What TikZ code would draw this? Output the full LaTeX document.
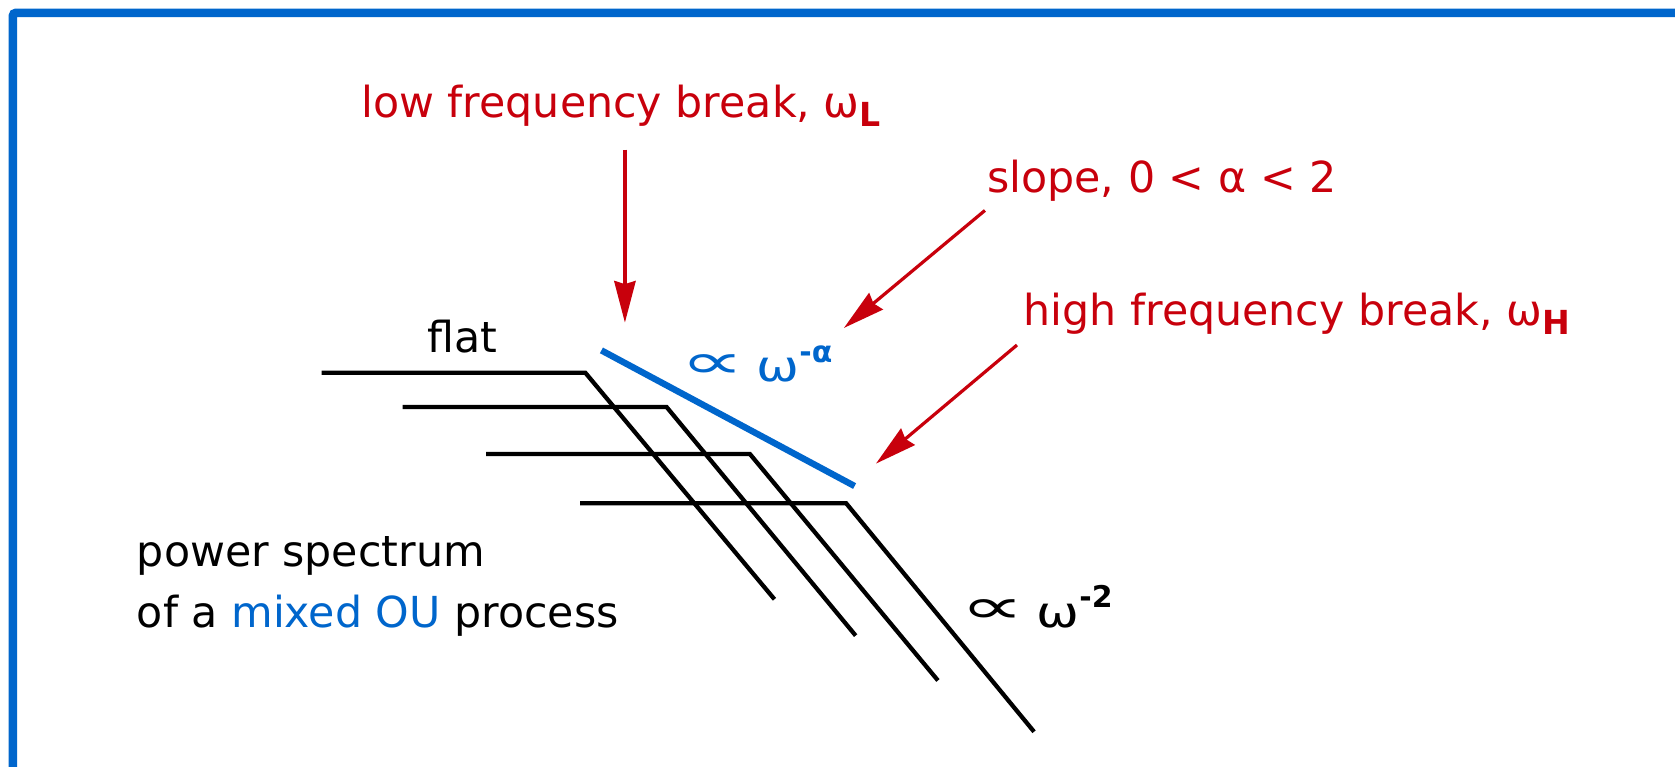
\documentclass[tikz,border=0pt]{standalone}
\usepackage{fontspec}
\setmainfont{DejaVu Sans}
\usetikzlibrary{arrows.meta}
\definecolor{fblue}{RGB}{0,102,204}
\definecolor{fred}{RGB}{200,0,12}
\newcommand{\bigtxt}{\fontsize{40}{48}\selectfont}
\newcommand{\supx}[1]{\raisebox{18pt}{\fontsize{28}{30}\selectfont\bfseries #1}}
\newcommand{\subx}[1]{\raisebox{-0.2em}{\fontsize{31}{34}\selectfont\bfseries #1}}
\newcommand{\propx}{\raisebox{3pt}{\scalebox{2.1}[1.15]{∝}}}
\newcommand{\omx}{\scalebox{1.2}[1]{ω}}
\tikzset{
  lbl/.style={inner sep=0pt, anchor=base west, font=\bigtxt},
  spec/.style={line width=4pt, black},
  redarrow/.style={fred, line width=3pt, -{Stealth[length=39pt, width=20pt, inset=3pt]}},
}
\begin{document}
\begin{tikzpicture}[x=1pt,y=-1pt]
\useasboundingbox (0,0) rectangle (1568,718);
\clip (0,0) rectangle (1568,718);
\fill[white] (0,0) rectangle (1568,718);
% frame
\draw[fblue, line width=8pt, rounded corners=3pt] (12,740) -- (12,12) -- (1590,12);

% spectra
\coordinate (a1) at (301,349); \coordinate (b1) at (548,349); \coordinate (c1) at (725,561);
\coordinate (a2) at (377,381); \coordinate (b2) at (624,381); \coordinate (c2) at (801,595);
\coordinate (a3) at (455,425); \coordinate (b3) at (702,425); \coordinate (c3) at (878,637);
\coordinate (a4) at (543,471); \coordinate (b4) at (792,471); \coordinate (c4) at (968,685);
\draw[spec] (a1) -- (b1) -- (c1);
\draw[spec] (a2) -- (b2) -- (c2);
\draw[spec] (a3) -- (b3) -- (c3);
\draw[spec] (a4) -- (b4) -- (c4);

% blue slope
\coordinate (s1) at (563,328); \coordinate (s2) at (800,455);
\draw[fblue, line width=6pt] (s1) -- (s2);

% labels
\node[lbl] (flat) at (400,330) {flat};
\node[lbl, fblue] (propa) at (637,357) {\propx\hspace{11pt}\omx\supx{-α}};
\node[lbl] (prop2) at (899,587) {\propx\hspace{11pt}\omx\supx{-2}};
\node[lbl] (ps1) at (128,530) {power spectrum};
\node[lbl] (ps2) at (128,587) {of a \textcolor{fblue}{mixed OU} process};

\node[lbl, fred] (low) at (338,110) {low frequency break, ω\subx{L}};
\node[lbl, fred] (slope) at (924,180) {slope, 0 < α < 2};
\node[lbl, fred] (high) at (958,305) {high frequency break, ω\subx{H}};

% arrows
\coordinate (l0) at (585,140); \coordinate (l1) at (585,302);
\coordinate (sl0) at (922,197); \coordinate (sl1) at (790,307);
\coordinate (h0) at (952,323); \coordinate (h1) at (820,434);
\draw[redarrow] (l0) -- (l1);
\draw[redarrow] (sl0) -- (sl1);
\draw[redarrow] (h0) -- (h1);
\end{tikzpicture}
\end{document}
